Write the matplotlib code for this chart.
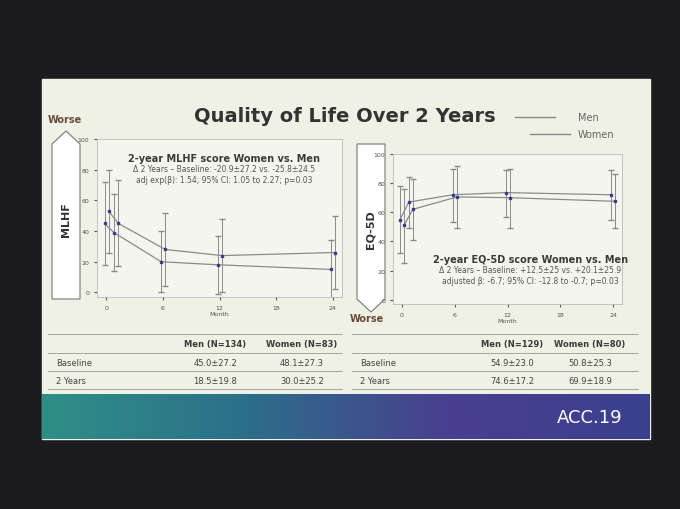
import matplotlib
matplotlib.use("Agg")
import matplotlib.pyplot as plt
from matplotlib.patches import Rectangle, Polygon
import numpy as np

# ── Data ─────────────────────────────────────────────────────────────
months = [0, 1, 6, 12, 24]
mlhf_men = [45, 39, 20, 18, 15]
mlhf_men_lo = [18, 14, 0, -1, -4]
mlhf_men_hi = [72, 64, 40, 37, 34]
mlhf_women = [53, 45, 28, 24, 26]
mlhf_women_lo = [26, 17, 4, 0, 2]
mlhf_women_hi = [80, 73, 52, 48, 50]

eq_men = [55, 67, 72, 73.5, 72]
eq_men_lo = [32, 49, 53, 57, 55]
eq_men_hi = [78, 84, 90, 89, 89]
eq_women = [51, 62, 70.5, 70, 67.5]
eq_women_lo = [25, 41, 49, 49, 49]
eq_women_hi = [76, 83, 92, 90, 86]

table_rows = ["Baseline", "2 Years"]
mlhf_men_tab = ["45.0±27.2", "18.5±19.8"]
mlhf_women_tab = ["48.1±27.3", "30.0±25.2"]
eq_men_tab = ["54.9±23.0", "74.6±17.2"]
eq_women_tab = ["50.8±25.3", "69.9±18.9"]

W, H = 680, 510
fig = plt.figure(figsize=(6.8, 5.1), dpi=100, facecolor="#1c1c20")

def fx(x): return x / W
def fy(y): return 1 - y / H

LINE = "#8a8a8a"
TXT = "#3a3a3a"

# slide background
fig.patches.append(Rectangle((fx(42), fy(440)), fx(608), (440 - 80) / H,
                             transform=fig.transFigure, color="#eef1e4", zorder=-5))
# bottom band
band = np.linspace(0, 1, 256).reshape(1, -1)
bax = fig.add_axes([fx(42), fy(440), fx(608), 45 / H])
bax.set_zorder(2)
bax.imshow(band, aspect="auto", cmap=matplotlib.colors.LinearSegmentedColormap.from_list(
    "b", ["#2f8f86", "#2b6f8a", "#4a3f8f", "#3b3f8f"]))
bax.axis("off")
fig.text(fx(590), fy(418), "ACC.19", color="white", fontsize=13, ha="center",
         va="center", zorder=5)

fig.text(fx(345), fy(117), "Quality of Life Over 2 Years", fontsize=14, fontweight="bold",
         color="#333", ha="center", va="center")
fig.text(fx(48), fy(123), "Worse", fontsize=7, fontweight="bold", color="#6b4a3a")
fig.text(fx(350), fy(322), "Worse", fontsize=7, fontweight="bold", color="#6b4a3a")

# legend
fig.add_artist(plt.Line2D([fx(515), fx(555)], [fy(118), fy(118)], color=LINE, lw=1))
fig.add_artist(plt.Line2D([fx(530), fx(570)], [fy(135), fy(135)], color=LINE, lw=1))
fig.text(fx(578), fy(118), "Men", fontsize=7, color="#666", va="center")
fig.text(fx(578), fy(135), "Women", fontsize=7, color="#666", va="center")

# arrows
fig.patches.append(Polygon([(fx(52), fy(300)), (fx(80), fy(300)), (fx(80), fy(145)),
                            (fx(66), fy(132)), (fx(52), fy(145))], closed=True,
                           transform=fig.transFigure, fc="white", ec="#777", lw=0.8))
fig.text(fx(66), fy(220), "MLHF", rotation=90, fontsize=8, fontweight="bold",
         ha="center", va="center", color="#333")
fig.patches.append(Polygon([(fx(357), fy(145)), (fx(385), fy(145)), (fx(385), fy(300)),
                            (fx(371), fy(313)), (fx(357), fy(300))], closed=True,
                           transform=fig.transFigure, fc="white", ec="#777", lw=0.8))
fig.text(fx(371), fy(230), "EQ-5D", rotation=90, fontsize=8, fontweight="bold",
         ha="center", va="center", color="#333")


def panel(rect, m, mlo, mhi, w, wlo, whi):
    ax = fig.add_axes(rect)
    ax.set_zorder(2)
    ax.set_facecolor("#f4f6ee")
    xm = np.array(months) - 0.2
    xw = np.array(months) + 0.25
    for x, y, lo, hi in [(xm, m, mlo, mhi), (xw, w, wlo, whi)]:
        y = np.array(y)
        ax.errorbar(x, y, yerr=[y - np.array(lo), np.array(hi) - y], color=LINE,
                    lw=0.9, elinewidth=0.7, capsize=2, marker="s", ms=2,
                    mfc="#3b3b8f", mec="#3b3b8f")
    ax.set_xlim(-1, 25)
    ax.set_ylim(-3, 100)
    ax.set_xticks([0, 6, 12, 18, 24])
    ax.set_yticks([0, 20, 40, 60, 80, 100])
    ax.tick_params(labelsize=4.5, length=2, colors="#555")
    ax.set_xlabel("Month", fontsize=4.5, color="#555", labelpad=1)
    for s in ax.spines.values():
        s.set_color("#bbb")
        s.set_linewidth(0.6)
    return ax


ax1 = panel([fx(97), fy(298), fx(245), 158 / H], mlhf_men, mlhf_men_lo, mlhf_men_hi,
            mlhf_women, mlhf_women_lo, mlhf_women_hi)
ax1.text(0.52, 0.86, "2-year MLHF score Women vs. Men", transform=ax1.transAxes,
         fontsize=7, fontweight="bold", ha="center", color=TXT)
ax1.text(0.52, 0.84, "Δ 2 Years – Baseline: -20.9±27.2 vs. -25.8±24.5\n"
         "adj exp(β): 1.54; 95% CI: 1.05 to 2.27; p=0.03", transform=ax1.transAxes,
         fontsize=5.5, ha="center", va="top", color="#555", linespacing=1.3)

ax2 = panel([fx(393), fy(305), fx(229), 150 / H], eq_men, eq_men_lo, eq_men_hi,
            eq_women, eq_women_lo, eq_women_hi)
ax2.text(0.6, 0.28, "2-year EQ-5D score Women vs. Men", transform=ax2.transAxes,
         fontsize=7, fontweight="bold", ha="center", color=TXT)
ax2.text(0.6, 0.26, "Δ 2 Years – Baseline: +12.5±25 vs. +20.1±25.9\n"
         "adjusted β: -6.7; 95% CI: -12.8 to -0.7; p=0.03", transform=ax2.transAxes,
         fontsize=5.5, ha="center", va="top", color="#555", linespacing=1.3)

# tables
def table(x0, x1, cx_men, cx_women, hm, hw, men, women):
    for y in (335, 354, 372, 390):
        fig.add_artist(plt.Line2D([fx(x0), fx(x1)], [fy(y), fy(y)], color="#999", lw=0.6))
    fig.text(fx(cx_men), fy(345), hm, fontsize=6, fontweight="bold", ha="center",
             va="center", color=TXT)
    fig.text(fx(cx_women), fy(345), hw, fontsize=6, fontweight="bold", ha="center",
             va="center", color=TXT)
    for i, lab in enumerate(table_rows):
        y = 363 + i * 18
        fig.text(fx(x0 + 8), fy(y), lab, fontsize=6, va="center", color="#444")
        fig.text(fx(cx_men), fy(y), men[i], fontsize=6, ha="center", va="center", color="#444")
        fig.text(fx(cx_women), fy(y), women[i], fontsize=6, ha="center", va="center", color="#444")


table(48, 342, 215, 302, "Men (N=134)", "Women (N=83)", mlhf_men_tab, mlhf_women_tab)
table(352, 638, 512, 590, "Men (N=129)", "Women (N=80)", eq_men_tab, eq_women_tab)

fig.savefig("out.png", dpi=100, facecolor=fig.get_facecolor())
